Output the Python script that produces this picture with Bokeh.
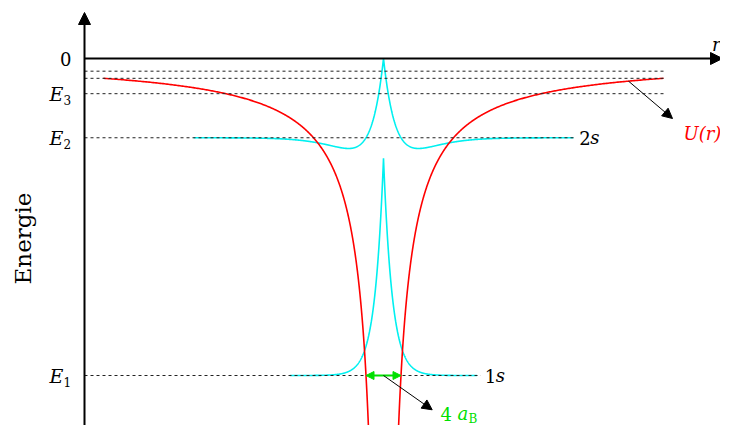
import numpy as np
from bokeh.plotting import figure
from bokeh.models import Range1d, Arrow, NormalHead, ColumnDataSource
from bokeh.core.properties import value
from bokeh.embed import file_html
from bokeh.resources import INLINE

# ---- data (energies in Rydberg, r in Bohr radii) ----
level_n = [1, 2, 3, 4, 5]
level_E = [-1.0, -0.25, -0.111, -0.0625, -0.04]
level_labels = ["1", "2", "3", "", ""]
level_end_r = [11.1, 21.9, 32.2, 32.2, 32.2]
orbital_names = ["1", "2"]           # 1s, 2s
amp_1s = 0.685                       # peak height of 1s curve above E1
amp_2s = 0.25                        # peak height of 2s curve above E2
range_1s = 10.7
range_2s = 21.7
r_pot_min, r_pot_max = 1.5, 32.0     # extent of U(r) = -2/r
bohr_span = [-2.0, 2.0]              # 4 a_B arrow

# ---- layout constants ----
PXR = 8.75     # px per a_B
PXE = 317.0    # px per Rydberg
W, H = 720, 425
x0 = -383 / PXR
y1 = 58 / PXE
p = figure(width=W, height=H, output_backend="svg", toolbar_location=None,
           x_range=Range1d(x0, x0 + W / PXR), y_range=Range1d(y1 - H / PXE, y1),
           x_axis_location=None, y_axis_location=None, min_border=0)
p.grid.visible = False
p.outline_line_color = None
p.background_fill_color = "white"

serif = value("DejaVu Serif")
r_ax = (84 - 383) / PXR
r_tip = (722 - 383) / PXR
E_tip = (58 - 12) / PXE
E_bot = y1 - H / PXE

# ---- wave functions ----
r1 = np.linspace(-range_1s, range_1s, 1001)
psi1 = level_E[0] + amp_1s * np.exp(-np.abs(r1))
r2 = np.linspace(-range_2s, range_2s, 1001)
psi2 = level_E[1] + amp_2s * (1 - np.abs(r2) / 2) * np.exp(-np.abs(r2) / 2)
p.line(r1, psi1, line_color="#00f0f0", line_width=1.6)
p.line(r2, psi2, line_color="#00f0f0", line_width=1.6)

# ---- potential ----
rr = np.geomspace(r_pot_min, r_pot_max, 500)
p.line(rr, -2 / rr, line_color="#ff0000", line_width=1.6)
p.line(-rr, -2 / rr, line_color="#ff0000", line_width=1.6)

# ---- level lines ----
src = ColumnDataSource(dict(x0=[r_ax] * len(level_E), x1=level_end_r, y=level_E))
p.segment(x0="x0", y0="y", x1="x1", y1="y", source=src,
          line_color="#222222", line_width=1, line_dash="3 3")

# ---- axes ----
p.add_layout(Arrow(end=NormalHead(size=12, fill_color="black", line_color="black"),
                   x_start=r_ax, y_start=0, x_end=r_tip, y_end=0,
                   line_color="black", line_width=2))
p.add_layout(Arrow(end=NormalHead(size=12, fill_color="black", line_color="black"),
                   x_start=r_ax, y_start=E_bot, x_end=r_ax, y_end=E_tip,
                   line_color="black", line_width=2))
p.text(x=[r_tip], y=[0], text=["r"], x_offset=-2, y_offset=-4, text_font=serif, text_font_size="18px",
       text_font_style="italic", text_baseline="bottom", text_align="right", text_color="black")

# ---- level labels ----
p.text(x=[r_ax], y=[0], text=["0"], x_offset=-13, text_font=serif, text_font_size="18px",
       text_baseline="middle", text_align="right", text_color="black")
labE = [e for e, l in zip(level_E, level_labels) if l]
labS = [l for l in level_labels if l]
p.text(x=[r_ax] * len(labE), y=labE, text=["E"] * len(labE), x_offset=-35, y_offset=0,
       text_font=serif, text_font_size="19px", text_font_style="italic",
       text_baseline="middle", text_align="left", text_color="black")
p.text(x=[r_ax] * len(labE), y=labE, text=labS, x_offset=-21, y_offset=6,
       text_font=serif, text_font_size="12px",
       text_baseline="middle", text_align="left", text_color="black")

p.text(x=[x0 + 22 / PXR], y=[-(238 - 58) / PXE], text=["Energie"], angle=np.pi / 2,
       text_font=serif, text_font_size="23px", text_baseline="middle", text_align="center",
       text_color="black")

# ---- orbital labels ----
for i, nm in enumerate(orbital_names):
    xe = level_end_r[i]
    p.text(x=[xe], y=[level_E[i]], text=[nm], x_offset=4, y_offset=0, text_font=serif,
           text_font_size="18px", text_baseline="middle", text_align="left", text_color="black")
    p.text(x=[xe], y=[level_E[i]], text=["s"], x_offset=15, y_offset=0, text_font=serif,
           text_font_size="18px", text_font_style="italic", text_baseline="middle",
           text_align="left", text_color="black")

# ---- U(r) annotation ----
r_a = 28.0
p.add_layout(Arrow(end=NormalHead(size=10, fill_color="black", line_color="black"),
                   x_start=r_a, y_start=-2 / r_a, x_end=(672 - 383) / PXR, y_end=-(118 - 58) / PXE,
                   line_color="black", line_width=1))
p.text(x=[(683 - 383) / PXR], y=[-(133 - 58) / PXE], text=["U(r)"], text_font=serif,
       text_font_size="18px", text_font_style="italic", text_baseline="middle",
       text_align="left", text_color="#ff0000")

# ---- Bohr radius annotation ----
green = "#00e000"
p.add_layout(Arrow(start=NormalHead(size=8, fill_color=green, line_color=green),
                   end=NormalHead(size=8, fill_color=green, line_color=green),
                   x_start=bohr_span[0], y_start=level_E[0], x_end=bohr_span[1], y_end=level_E[0],
                   line_color=green, line_width=2))
p.add_layout(Arrow(end=NormalHead(size=10, fill_color="black", line_color="black"),
                   x_start=0, y_start=level_E[0], x_end=(431.7 - 383) / PXR, y_end=-(409.3 - 58) / PXE,
                   line_color="black", line_width=1))
xb, yb = (440 - 383) / PXR, -(413 - 58) / PXE
p.text(x=[xb], y=[yb], text=["4"], text_font=serif, text_font_size="18px",
       text_baseline="middle", text_align="left", text_color=green)
p.text(x=[xb], y=[yb], text=["a"], x_offset=17, text_font=serif, text_font_size="18px",
       text_font_style="italic", text_baseline="middle", text_align="left", text_color=green)
p.text(x=[xb], y=[yb], text=["B"], x_offset=28, y_offset=5, text_font=serif, text_font_size="12px",
       text_baseline="middle", text_align="left", text_color=green)

open("out.html", "w").write(file_html(p, INLINE))
